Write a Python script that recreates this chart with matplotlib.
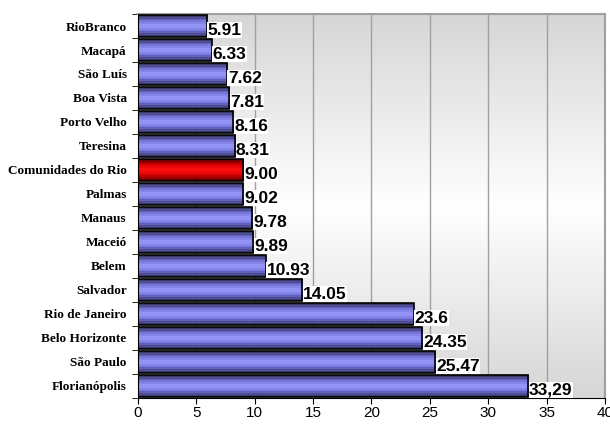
import numpy as np
import matplotlib.pyplot as plt
from matplotlib.colors import LinearSegmentedColormap

# categories top to bottom as in the chart
cities = ["RioBranco", "Macapá", "São Luís", "Boa Vista", "Porto Velho", "Teresina",
          "Comunidades do Rio", "Palmas", "Manaus", "Maceió", "Belem", "Salvador",
          "Rio de Janeiro", "Belo Horizonte", "São Paulo", "Florianópolis"]
values = [5.91, 6.33, 7.62, 7.81, 8.16, 8.31, 9.00, 9.02, 9.78, 9.89, 10.93, 14.05,
          23.6, 24.35, 25.47, 33.4]
labels = ["5.91", "6.33", "7.62", "7.81", "8.16", "8.31", "9.00", "9.02", "9.78", "9.89",
          "10.93", "14.05", "23.6", "24.35", "25.47", "33,29"]
highlight = "Comunidades do Rio"

fig = plt.figure(figsize=(6.1, 4.25), dpi=100)
ax = fig.add_axes([0.226, 0.064, 0.766, 0.903])

# background: grey -> white -> grey, vertical gradient
bg = LinearSegmentedColormap.from_list("bg", ["#d6d6d6", "#ffffff", "#d6d6d6"])
ax.imshow(np.linspace(0, 1, 256).reshape(-1, 1), cmap=bg, aspect="auto",
          extent=[0, 1, 0, 1], transform=ax.transAxes, zorder=0)

blue = LinearSegmentedColormap.from_list("b", ["#3a3a70", "#7272d8", "#9a9aff", "#7272d8", "#3a3a70"])
red = LinearSegmentedColormap.from_list("r", ["#6a0000", "#d80000", "#ff1010", "#d80000", "#6a0000"])

y = np.arange(len(cities))
bars = ax.barh(y, values, height=0.9, color="none", edgecolor="black", linewidth=1.2, zorder=3)
stripes = np.linspace(0, 1, 12).reshape(-1, 1)
for b, c in zip(bars, cities):
    x0, y0 = b.get_x(), b.get_y()
    im = ax.imshow(stripes, cmap=red if c == highlight else blue, aspect="auto",
                   extent=[x0, x0 + b.get_width(), y0 + b.get_height(), y0],
                   interpolation="nearest", zorder=2)
    im.set_clip_path(b)

for v, yy, t in zip(values, y, labels):
    ax.text(v + 0.08, yy + 0.18, t, ha="left", va="center", fontsize=12.5, fontweight="bold",
            family="Liberation Sans", zorder=4,
            bbox=dict(facecolor="white", edgecolor="none", pad=0.2))

ax.set_xlim(0, 40)
ax.set_ylim(len(cities) - 0.5, -0.5)
ax.set_xticks(np.arange(0, 41, 5))
ax.set_xticklabels([str(v) for v in range(0, 41, 5)], family="Liberation Sans", fontsize=11)
ax.set_yticks(y)
ax.set_yticklabels(cities, family="Liberation Serif", fontweight="bold", fontsize=9.5)
ax.tick_params(axis="y", length=0, pad=8)
ax.set_yticks(np.arange(-0.5, len(cities)), minor=True)
ax.tick_params(axis="y", which="minor", length=4, direction="out")
ax.tick_params(axis="x", length=4, direction="out", pad=2)
ax.grid(axis="x", color="#a0a0a0", linewidth=1, zorder=1)
ax.set_axisbelow(True)
for s in ["top", "right"]:
    ax.spines[s].set_color("#a0a0a0")
    ax.spines[s].set_linewidth(1.5)

fig.savefig("out.png", dpi=100)
